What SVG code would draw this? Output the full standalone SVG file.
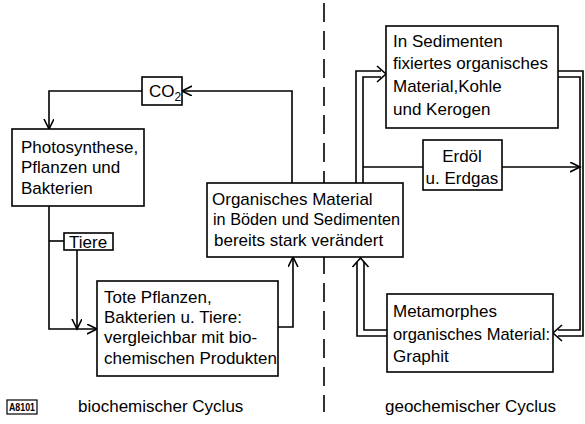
<svg xmlns="http://www.w3.org/2000/svg" width="585" height="424" viewBox="0 0 585 424">
<defs>
<style>
.box{fill:#fff;stroke:#000;stroke-width:1.6}
.ln{fill:none;stroke:#000;stroke-width:1.6}
.hd{fill:none;stroke:#000;stroke-width:1.6;stroke-linejoin:miter}
text{font-family:"Liberation Sans",Arial,sans-serif;font-size:17px;fill:#000}
.sm{font-size:10px;font-weight:bold}
</style>
<marker id="ar" markerWidth="12" markerHeight="12" refX="10" refY="5" orient="auto" markerUnits="userSpaceOnUse">
<path d="M0,0 L10,5 L0,10" fill="none" stroke="#000" stroke-width="1.6"/>
</marker>
</defs>
<rect width="585" height="424" fill="#fff"/>
<line id="divider" x1="324" y1="3" x2="324" y2="412" stroke="#000" stroke-width="1.6" stroke-dasharray="19 9"/>
<g id="connectors">
<polyline class="ln" points="292,183 292,91 182,91" marker-end="url(#ar)"/>
<polyline class="ln" points="142,91 49,91 49,129" marker-end="url(#ar)"/>
<polyline class="ln" points="49,206 49,329 97,329" marker-end="url(#ar)"/>
<line class="ln" x1="49" y1="241" x2="64" y2="241"/>
<line class="ln" x1="77" y1="250" x2="77" y2="329" marker-end="url(#ar)"/>
<polyline class="ln" points="278,327 293,327 293,257" marker-end="url(#ar)"/>
<line class="ln" x1="363" y1="167" x2="423" y2="167"/>
<line class="ln" x1="502" y1="167" x2="580" y2="167" marker-end="url(#ar)"/>
<polyline class="ln" points="356,183 356,71 381,71"/>
<polyline class="ln" points="363,183 363,77 381,77"/>
<path class="hd" d="M377,66 L386,74 L377,82"/>
<polyline class="ln" points="558,71 583,71 583,336 558,336"/>
<polyline class="ln" points="558,77 580,77 580,330 558,330"/>
<path class="hd" d="M562,325 L553,333 L562,341"/>
<polyline class="ln" points="387,336 357,336 357,262"/>
<polyline class="ln" points="387,330 364,330 364,262"/>
<path class="hd" d="M352.5,267 L360.5,258 L368.5,267"/>
</g>
<g id="co2">
<rect class="box" x="142" y="77" width="40" height="28"/>
<text x="149" y="97">CO<tspan font-size="12" dy="4">2</tspan></text>
</g>
<g id="photosynthese">
<rect class="box" x="12" y="129" width="132" height="77"/>
<text x="21" y="153">Photosynthese,</text>
<text x="21" y="173">Pflanzen und</text>
<text x="21" y="194">Bakterien</text>
</g>
<g id="tiere">
<rect class="box" x="64" y="233" width="49" height="17"/>
<text x="69" y="248" font-size="16">Tiere</text>
</g>
<g id="tote">
<rect class="box" x="97" y="281" width="181" height="95"/>
<text x="104" y="303">Tote Pflanzen,</text>
<text x="104" y="323">Bakterien u. Tiere:</text>
<text x="104" y="343">vergleichbar mit bio-</text>
<text x="104" y="364">chemischen Produkten</text>
</g>
<g id="organisches">
<rect class="box" x="207" y="183" width="196" height="74"/>
<text x="212" y="205">Organisches Material</text>
<text x="213" y="225" textLength="187" lengthAdjust="spacingAndGlyphs">in Böden und Sedimenten</text>
<text x="214" y="246">bereits stark verändert</text>
</g>
<g id="sedimente">
<rect class="box" x="386" y="26" width="172" height="102"/>
<text x="393" y="47">In Sedimenten</text>
<text x="393" y="69">fixiertes organisches</text>
<text x="393" y="92">Material,Kohle</text>
<text x="393" y="115">und Kerogen</text>
</g>
<g id="erdoel">
<rect class="box" x="423" y="140" width="79" height="50"/>
<text x="462" y="162" text-anchor="middle">Erdöl</text>
<text x="462" y="184" text-anchor="middle">u. Erdgas</text>
</g>
<g id="metamorphes">
<rect class="box" x="387" y="294" width="166" height="78"/>
<text x="393" y="317">Metamorphes</text>
<text x="393" y="340" textLength="157" lengthAdjust="spacingAndGlyphs">organisches Material:</text>
<text x="393" y="362">Graphit</text>
</g>
<g id="legend">
<rect x="7" y="400" width="30" height="14" fill="none" stroke="#000" stroke-width="1.2"/>
<text class="sm" x="9" y="411" textLength="26" lengthAdjust="spacingAndGlyphs">A8101</text>
<text x="78" y="412">biochemischer Cyclus</text>
<text x="385" y="412">geochemischer Cyclus</text>
</g>
</svg>
